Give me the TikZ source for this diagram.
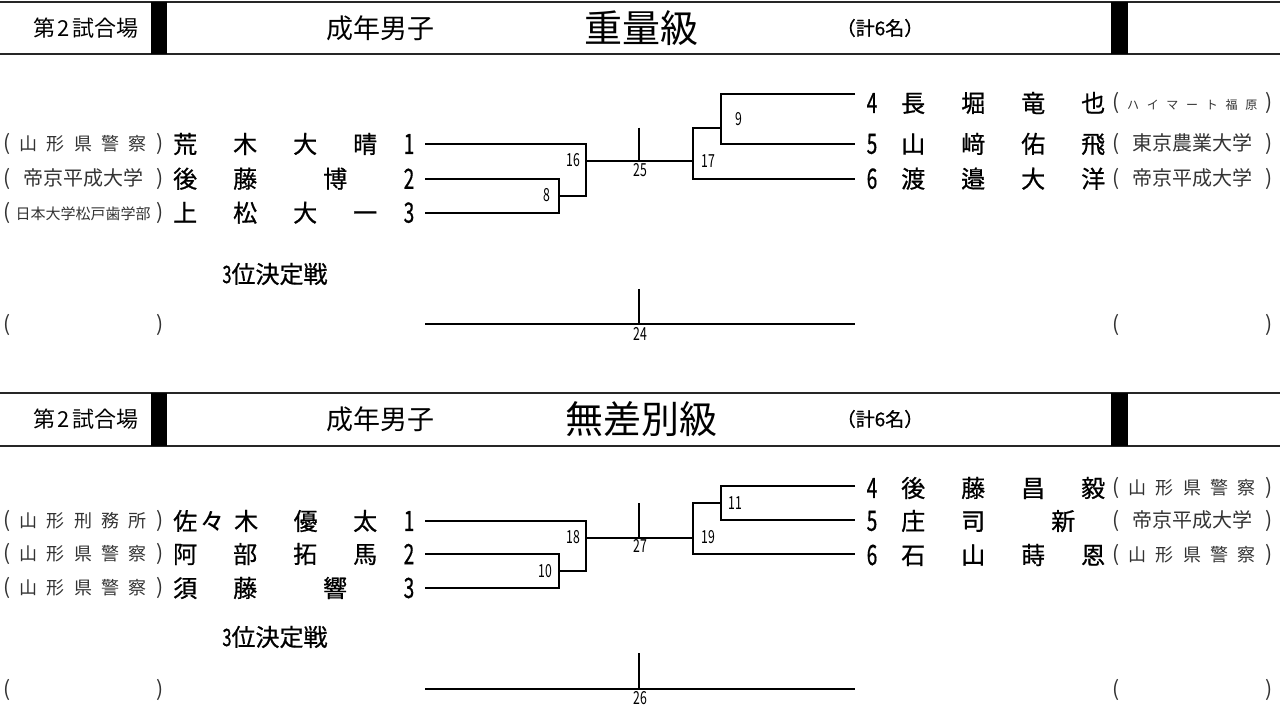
\documentclass[tikz,border=0pt]{standalone}
\usepackage{fontspec}
\setmainfont{Noto Sans CJK JP}
\newfontfamily\namefont[FakeBold=0.7]{Noto Sans CJK JP}
\usepackage{graphicx}
\usetikzlibrary{calc}

\newcommand\cond[1]{\scalebox{.68}[1]{#1}}
\newcommand\aff[2]{\makebox[160pt][s]{\fontsize{21}{21}\selectfont(\hfill{\fontsize{#1}{#1}\selectfont #2}\hfill)}}

\begin{document}
\begin{tikzpicture}[x=1pt,y=-1pt,
    bout/.style={line width=1.8pt},
    cross/.style={line width=1.4pt},
    frame/.style={line width=2.2pt,draw=black!85},
    bar/.style={fill=black},
    plr/.style={inner sep=0pt,anchor=west,font=\fontsize{24}{24}\namefont},
    seed/.style={inner sep=0pt,font=\fontsize{28}{28}\namefont},
    club/.style={inner sep=0pt,anchor=west,text=black!80},
    lbl/.style={inner sep=0pt,font=\fontsize{18}{18}\selectfont},
    ttl/.style={inner sep=0pt}]
  \useasboundingbox (0,0) rectangle (1280,708);

  % header 1
  \draw[frame] (0,2) -- (1280,2);
  \draw[frame] (0,54) -- (1280,54);
  \fill[bar] (151,2) rectangle (167,54);
  \fill[bar] (1111,2) rectangle (1128,54);
  \node[ttl,font=\fontsize{22}{22}\selectfont] (hall1) at (86,28) {第\hspace{2pt}2\hspace{2pt}試合場};
  \node[ttl,font=\fontsize{27}{27}\selectfont] (cat1) at (380,28) {成年男子};
  \node[ttl,font=\fontsize{38}{38}\selectfont] (cls1) at (641,28) {重量級};
  \node[ttl,font=\fontsize{19}{19}\namefont] (cnt1) at (880,28) {（計6名）};

  % players, left
  \node[club] (c1) at (3,144) {\aff{18}{山\hfill 形\hfill 県\hfill 警\hfill 察}};
  \node[club] (c2) at (3,178.7) {\aff{20}{帝京平成大学}};
  \node[club] (c3) at (3,212.7) {\aff{15}{日本大学松戸歯学部}};
  \node[plr] (p1) at (173,144) {\makebox[204pt][s]{荒\hfill 木\hfill 大\hfill 晴}};
  \node[plr] (p2) at (173,178.7) {\makebox[204pt][l]{後\hspace{36pt}藤\hspace{66pt}博}};
  \node[plr] (p3) at (173,212.7) {\makebox[204pt][s]{上\hfill 松\hfill 大\hfill 一}};
  \foreach \y/\k in {144/1,178.7/2,212.7/3}
    {\node[seed] (s\k) at (409,\y) {\cond{\k}};}

  % players, right
  \node[seed] (s4) at (872,103) {\cond{4}};
  \node[seed] (s5) at (872,144) {\cond{5}};
  \node[seed] (s6) at (872,178.7) {\cond{6}};
  \node[plr] (p4) at (901,103) {\makebox[204pt][s]{長\hfill 堀\hfill 竜\hfill 也}};
  \node[plr] (p5) at (901,144) {\makebox[204pt][s]{山\hfill 﨑\hfill 佑\hfill 飛}};
  \node[plr] (p6) at (901,178.7) {\makebox[204pt][s]{渡\hfill 邉\hfill 大\hfill 洋}};
  \node[club] (c4) at (1112,103) {\aff{12}{ハ\hfill イ\hfill マ\hfill ー\hfill ト\hfill 福\hfill 原}};
  \node[club] (c5) at (1112,144) {\aff{20}{東京農業大学}};
  \node[club] (c6) at (1112,178.7) {\aff{20}{帝京平成大学}};

  % bracket
  \coordinate (a1) at (425,144);
  \coordinate (a2) at (425,178.7);
  \coordinate (a3) at (425,212.7);
  \coordinate (b4) at (855,94.3);
  \coordinate (b5) at (855,144);
  \coordinate (b6) at (855,178.7);
  \coordinate (m8) at (559,195.7);
  \coordinate (m16) at (586,161);
  \coordinate (m9) at (721,127.7);
  \coordinate (m17) at (693,161);
  \coordinate (m25) at (639,161);
  \coordinate (top25) at (639,127.7);
  \draw[bout] (a2) -| (m8) |- (a3);
  \draw[bout] (a1) -| (m16) |- (m8);
  \draw[bout] (m16) -- (m17);
  \draw[bout] (b4) -| (m9) |- (b5);
  \draw[bout] (m9) -| (m17) |- (b6);
  \draw[cross] (top25) -- (m25);
  \node[lbl] (l8) at (547,195.5) {\cond{8}};
  \node[lbl] (l16) at (573,160.5) {\cond{16}};
  \node[lbl] (l25) at (640,170) {\cond{25}};
  \node[lbl] (l9) at (739,119) {\cond{9}};
  \node[lbl] (l17) at (708,161.5) {\cond{17}};

  % 3rd place
  \node[ttl,font=\fontsize{24}{24}\namefont] (third1) at (275,274) {\cond{3}位決定戦};
  \node[club] (e1) at (3,325) {\aff{16}{}};
  \node[club] (e2) at (1112,325) {\aff{16}{}};
  \coordinate (q1) at (425,324);
  \coordinate (q2) at (855,324);
  \coordinate (m24) at (639,324);
  \coordinate (top24) at (639,289);
  \draw[bout] (q1) -- (q2);
  \draw[cross] (top24) -- (m24);
  \node[lbl] (l24) at (640,334) {\cond{24}};

  % header 2
  \draw[frame] (0,393) -- (1280,393);
  \draw[frame] (0,446) -- (1280,446);
  \fill[bar] (151,393) rectangle (167,446);
  \fill[bar] (1111,393) rectangle (1128,446);
  \node[ttl,font=\fontsize{22}{22}\selectfont] (hall2) at (86,419) {第\hspace{2pt}2\hspace{2pt}試合場};
  \node[ttl,font=\fontsize{27}{27}\selectfont] (cat2) at (380,419) {成年男子};
  \node[ttl,font=\fontsize{38}{38}\selectfont] (cls2) at (641,419) {無差別級};
  \node[ttl,font=\fontsize{19}{19}\namefont] (cnt2) at (880,419) {（計6名）};

  % players, left
  \node[club] (d1) at (3,521) {\aff{18}{山\hfill 形\hfill 刑\hfill 務\hfill 所}};
  \node[club] (d2) at (3,554) {\aff{18}{山\hfill 形\hfill 県\hfill 警\hfill 察}};
  \node[club] (d3) at (3,588) {\aff{18}{山\hfill 形\hfill 県\hfill 警\hfill 察}};
  \node[plr] (r1) at (173,521) {\makebox[204pt][s]{佐\hspace{3pt}々\hspace{10pt}木\hfill 優\hfill 太}};
  \node[plr] (r2) at (173,554) {\makebox[204pt][s]{阿\hfill 部\hfill 拓\hfill 馬}};
  \node[plr] (r3) at (173,588) {\makebox[204pt][l]{須\hspace{36pt}藤\hspace{66pt}響}};
  \foreach \y/\k in {521/1,554/2,588/3}
    {\node[seed] (t\k) at (409,\y) {\cond{\k}};}

  % players, right
  \node[seed] (t4) at (872,488) {\cond{4}};
  \node[seed] (t5) at (872,521) {\cond{5}};
  \node[seed] (t6) at (872,555) {\cond{6}};
  \node[plr] (r4) at (901,488) {\makebox[204pt][s]{後\hfill 藤\hfill 昌\hfill 毅}};
  \node[plr] (r5) at (901,521) {\makebox[204pt][l]{庄\hspace{36pt}司\hspace{66pt}新}};
  \node[plr] (r6) at (901,555) {\makebox[204pt][s]{石\hfill 山\hfill 蒔\hfill 恩}};
  \node[club] (d4) at (1112,488) {\aff{18}{山\hfill 形\hfill 県\hfill 警\hfill 察}};
  \node[club] (d5) at (1112,521) {\aff{20}{帝京平成大学}};
  \node[club] (d6) at (1112,555) {\aff{18}{山\hfill 形\hfill 県\hfill 警\hfill 察}};

  % bracket
  \coordinate (g1) at (425,521);
  \coordinate (g2) at (425,554);
  \coordinate (g3) at (425,588);
  \coordinate (h4) at (855,486);
  \coordinate (h5) at (855,520);
  \coordinate (h6) at (855,554);
  \coordinate (m10) at (559,571);
  \coordinate (m18) at (586,538);
  \coordinate (m11) at (721,503);
  \coordinate (m19) at (693,538);
  \coordinate (m27) at (639,538);
  \coordinate (top27) at (639,503);
  \draw[bout] (g2) -| (m10) |- (g3);
  \draw[bout] (g1) -| (m18) |- (m10);
  \draw[bout] (m18) -- (m19);
  \draw[bout] (h4) -| (m11) |- (h5);
  \draw[bout] (m11) -| (m19) |- (h6);
  \draw[cross] (top27) -- (m27);
  \node[lbl] (l10) at (545,571) {\cond{10}};
  \node[lbl] (l18) at (573,537) {\cond{18}};
  \node[lbl] (l27) at (640,546) {\cond{27}};
  \node[lbl] (l11) at (735,503) {\cond{11}};
  \node[lbl] (l19) at (708,537) {\cond{19}};

  % 3rd place
  \node[ttl,font=\fontsize{24}{24}\namefont] (third2) at (275,637) {\cond{3}位決定戦};
  \node[club] (e3) at (3,690) {\aff{16}{}};
  \node[club] (e4) at (1112,690) {\aff{16}{}};
  \coordinate (q3) at (425,689);
  \coordinate (q4) at (855,689);
  \coordinate (m26) at (639,689);
  \coordinate (top26) at (639,653);
  \draw[bout] (q3) -- (q4);
  \draw[cross] (top26) -- (m26);
  \node[lbl] (l26) at (640,698) {\cond{26}};
\end{tikzpicture}
\end{document}
